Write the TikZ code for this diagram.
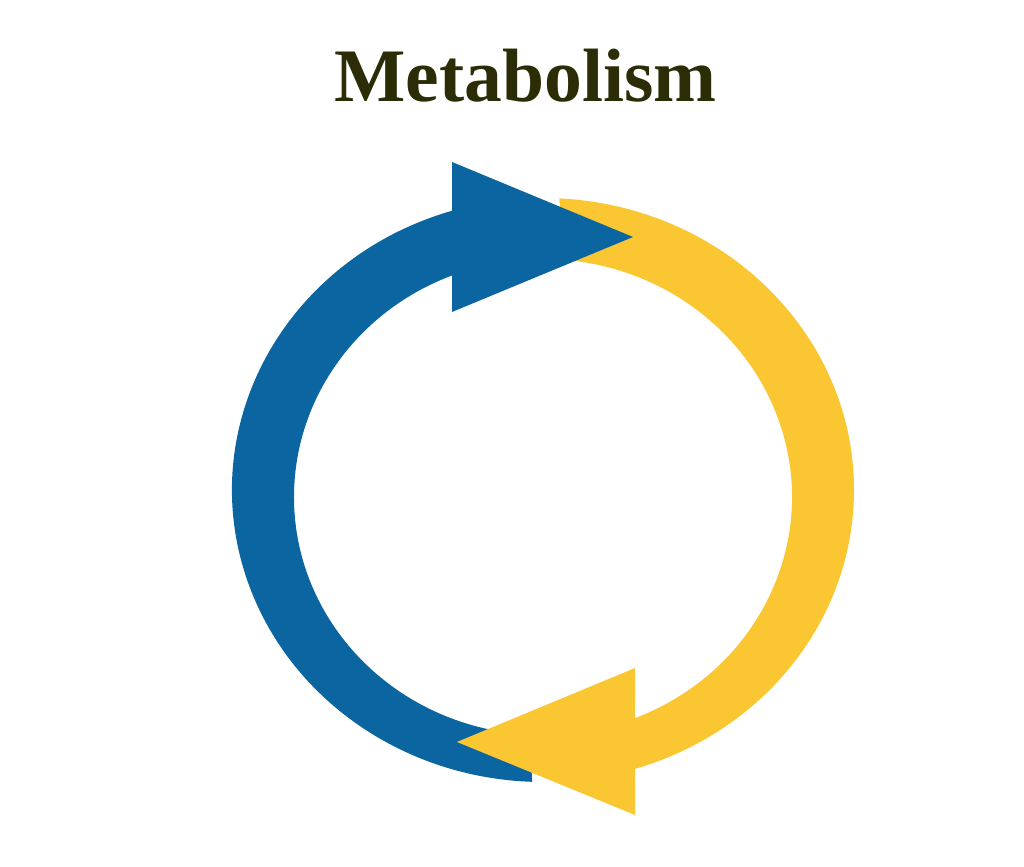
\documentclass[tikz,border=0pt]{standalone}
\usepackage{fontspec}
\setmainfont{Liberation Serif}
\usetikzlibrary{calc}
\definecolor{cycleblue}{RGB}{10,101,160}
\definecolor{cycleyellow}{RGB}{250,199,50}
\definecolor{titleolive}{RGB}{44,44,6}
\tikzset{
  bluepart/.style={fill=cycleblue},
  yellowpart/.style={fill=cycleyellow},
  titletext/.style={text=titleolive,font=\fontsize{21.5}{26}\selectfont\bfseries,inner sep=0pt,anchor=base}
}
\begin{document}
\begin{tikzpicture}
			\useasboundingbox(0,0)rectangle(10.24,-8.67);
			\coordinate(outc)at(5.43,-4.90);
			\coordinate(inc)at(5.43,-4.97);
			\node[titletext](title)at(5.255,-1.017){Metabolism};
			% blue band, left half
			\fill[bluepart]($(outc)+(107:3.11 and 2.92)$)arc[start angle=107,end angle=268,x radius=3.11,y radius=2.92]
				--($(inc)+(267:2.49 and 2.38)$)arc[start angle=267,end angle=111.4,x radius=2.49,y radius=2.38]--cycle;
			% yellow band, right half
			\fill[yellowpart]($(outc)+(87:3.11 and 2.92)$)arc[start angle=87,end angle=-72.8,x radius=3.11,y radius=2.92]
				--($(inc)+(-68.3:2.49 and 2.38)$)arc[start angle=-68.3,end angle=85,x radius=2.49,y radius=2.38]--cycle;
			% heads
			\coordinate(bh1)at(4.52,-1.62);
			\coordinate(bh2)at(4.52,-3.12);
			\coordinate(btip)at(6.33,-2.37);
			\fill[bluepart](bh1)--(btip)--(bh2)--cycle;
			\coordinate(yh1)at(6.35,-6.68);
			\coordinate(yh2)at(6.35,-8.15);
			\coordinate(ytip)at(4.57,-7.42);
			\fill[yellowpart](yh1)--(ytip)--(yh2)--cycle;
		\end{tikzpicture}
\end{document}
